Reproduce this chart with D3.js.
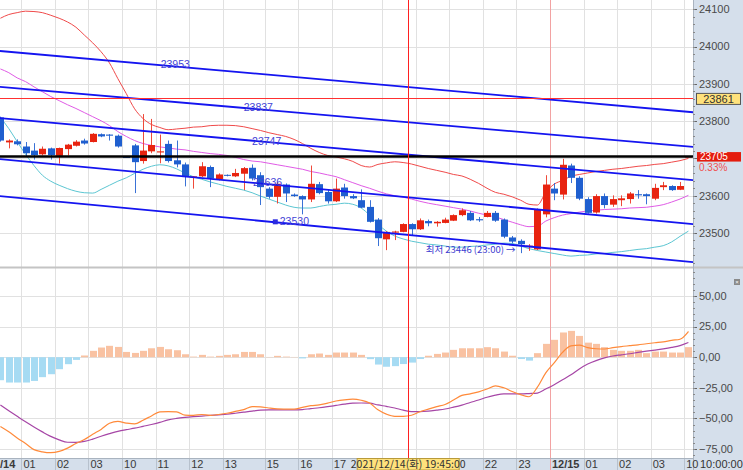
<!DOCTYPE html>
<html>
<head>
<meta charset="utf-8">
<script src="https://cdn.jsdelivr.net/npm/d3@7"></script>
<style>
  body { margin: 0; background: #fff; }
  svg { display: block; font-family: "Liberation Sans Narrow", "Liberation Sans", Arial, sans-serif; }
</style>
</head>
<body>
<svg id="chart" width="743" height="470"></svg>
<script>
// 15 minute bars, 2021/12/14 01:00 .. 12/15 10:00
const opens = [23810,23743,23746,23732,23721,23711,23727,23707,23725,23734,23748,23744,23765,23764,23761,23704,
  23735,23693,23719,23716,23739,23695,23684,23649,23652,23677,23644,23656,23652,23659,23675,23655,23619,23597,
  23630,23603,23599,23590,23631,23610,23585,23622,23599,23588,23570,23536,23483,23501,23503,23524,23510,23532,
  23526,23527,23533,23548,23554,23537,23543,23554,23536,23488,23479,23462,23456,23550,23619,23603,23681,23648,
  23591,23555,23599,23576,23588,23591,23604,23604,23592,23623,23626,23616,23705];
const highs = [23812,23751,23751,23744,23741,23732,23729,23729,23739,23749,23753,23768,23767,23765,23764,23705,
  23739,23819,23806,23764,23748,23748,23689,23652,23690,23681,23660,23657,23672,23677,23684,23663,23623,23637,
  23633,23606,23601,23681,23637,23615,23646,23632,23604,23617,23588,23540,23505,23506,23526,23526,23539,23536,
  23532,23541,23550,23566,23559,23543,23559,23559,23539,23492,23483,23470,23566,23655,23634,23699,23686,23652,
  23596,23604,23606,23601,23601,23610,23615,23606,23632,23637,23628,23637,23705];
const lows = [23745,23727,23735,23707,23697,23708,23697,23686,23708,23732,23737,23743,23757,23748,23729,23702,
  23607,23686,23714,23687,23689,23676,23625,23619,23650,23623,23641,23652,23650,23615,23641,23575,23592,23579,
  23583,23597,23550,23583,23604,23579,23583,23592,23591,23567,23528,23465,23454,23481,23502,23494,23508,23518,
  23517,23526,23532,23545,23532,23530,23542,23530,23486,23472,23446,23452,23454,23542,23588,23590,23634,23588,
  23552,23552,23566,23570,23572,23579,23592,23577,23588,23615,23613,23615,23705];
const closes = [23748,23748,23738,23714,23709,23726,23709,23728,23737,23745,23740,23766,23759,23761,23732,23703,
  23690,23721,23736,23719,23693,23684,23650,23652,23679,23646,23657,23654,23661,23674,23646,23623,23597,23632,
  23606,23599,23590,23632,23607,23585,23619,23599,23593,23568,23530,23486,23503,23504,23524,23510,23534,23526,
  23530,23536,23548,23561,23534,23534,23554,23533,23490,23477,23470,23466,23563,23630,23606,23683,23648,23592,
  23554,23599,23575,23591,23593,23606,23601,23599,23621,23628,23615,23626,23705];

// price envelope (upper / middle / lower)
const bandUpper = [24076,24086,24091,24095,24094,24091,24084,24076,24066,24052,24031,24010,23986,23956,23914,23874,
  23833,23807,23791,23783,23777,23779,23781,23784,23785,23788,23789,23789,23788,23785,23780,23775,23769,23764,
  23759,23751,23740,23727,23716,23708,23704,23699,23692,23681,23677,23684,23688,23691,23689,23685,23679,23673,
  23668,23663,23657,23653,23644,23633,23620,23609,23604,23597,23588,23577,23575,23609,23631,23641,23652,23657,
  23661,23665,23668,23671,23673,23676,23679,23681,23684,23686,23690,23694,23700];
const bandMiddle = [23940,23930,23916,23906,23892,23879,23866,23855,23844,23834,23823,23812,23801,23788,23772,23759,
  23748,23740,23735,23731,23728,23725,23723,23719,23716,23713,23711,23708,23703,23697,23693,23691,23687,23683,
  23679,23675,23671,23665,23661,23656,23651,23643,23635,23627,23620,23612,23605,23600,23596,23591,23585,23580,
  23576,23572,23568,23564,23559,23553,23548,23543,23536,23529,23522,23517,23518,23532,23541,23548,23552,23556,
  23559,23561,23563,23564,23565,23567,23568,23569,23572,23576,23583,23591,23601];
const bandLower = [23810,23780,23745,23711,23681,23655,23639,23628,23619,23612,23608,23607,23617,23628,23639,23648,
  23660,23671,23679,23683,23680,23672,23661,23651,23644,23637,23631,23625,23620,23615,23608,23599,23591,23583,
  23575,23569,23567,23567,23571,23575,23577,23580,23577,23567,23548,23524,23505,23492,23484,23478,23474,23470,
  23468,23465,23462,23462,23464,23465,23468,23470,23473,23472,23465,23458,23453,23449,23445,23441,23438,23440,
  23441,23444,23445,23448,23450,23453,23456,23458,23462,23466,23476,23491,23505];

// MACD panel
const macdLine = [-56.7,-61,-66,-70.5,-75.5,-77.3,-78,-77,-74.3,-70.5,-67.3,-63,-59,-54,-52.5,-53.8,-54.5,-51.5,
  -48,-44.6,-44.4,-44.6,-47.3,-47.5,-46.8,-47.5,-46.8,-45.8,-44.3,-42.8,-40.3,-40.6,-41.5,-42.2,-42.4,-42.5,-41,
  -39.6,-39,-37.5,-35.8,-34.8,-34.3,-35.2,-37.5,-43,-46.5,-48.3,-48.3,-47.4,-44.6,-42.4,-40.4,-38.6,-35,-31.2,
  -29.9,-28.3,-26,-23.4,-25,-28,-30.6,-32.3,-24.5,-12.8,-4.6,4,9.3,9.8,7.8,6.9,6.7,7.8,8.7,9.4,10.1,11,11.8,12.5,
  13.8,14.7,21];
const signalLine = [-39,-43.7,-48.3,-52.8,-57,-61,-64.7,-67.5,-69.5,-69.6,-68.8,-66.9,-64.6,-62.5,-60.6,-59.2,-58,
  -56.5,-55,-53.3,-51.2,-50,-49.2,-48.6,-48.1,-47.6,-47.1,-46.6,-45.8,-44.9,-44,-43.3,-43.1,-43.1,-43.1,-43.1,
  -42.8,-42,-41.3,-40.4,-39.4,-38.4,-37.6,-37.4,-37.6,-39,-40.2,-41.5,-43.2,-44.4,-44.4,-44,-43.2,-42.3,-40.8,
  -39.1,-37,-35,-32.7,-31,-30,-30,-30,-29.7,-29.3,-26,-22.5,-18.5,-14.4,-9.6,-5.6,-2.8,-0.6,1,1.9,2.8,3.9,4.9,5.8,
  6.8,8,9.5,12];
const histogram = [-18.8,-20.7,-20.7,-20.7,-19.4,-16.3,-13.9,-9.8,-5.7,-2.2,1.4,5.2,7.9,9.3,8.4,4.3,3.5,5.2,7.3,8.4,
  6.5,5.7,2.4,0.5,1.9,0.5,1.1,1.9,2.4,4.3,4.3,2.4,0.2,1.1,0.5,0.2,-1.0,2.4,3.0,1.9,3.8,3.8,3.8,1.9,-1.6,-6.0,-7.8,
  -7.3,-5.6,-4.4,-1.5,1.2,2.7,3.8,6.0,7.3,7.3,7.3,8.2,7.3,4.6,1.2,-1.5,-2.8,3.3,10.9,14.2,20.2,21.5,17.4,11.9,10.9,
  8.2,6.0,5.2,5.2,6.0,3.3,4.6,4.6,3.8,3.8,8.2];

// drawn trend channel: price at bar 0 and bar 82.5
const channelStart = [23988, 23892, 23808, 23698, 23599];
const channelEnd = [23824, 23731, 23642, 23524, 23422];
const channelLabels = ["23953", "23837", "23747", "23636", "23530"];
const channelLabelIdx = [19.1, 29.0, 30.0, 30.1, 33.3];

// time axis (first label is cut at the left edge in the source)
const hourLabels = ["/14", "01", "02", "03", "10", "11", "12", "13", "15", "16", "17", "22", "23", "12/15", "01", "02", "03", "10"];
const hourIdx = [-1.5, 2.5, 6.5, 10.5, 14.5, 18.5, 22.5, 26.5, 31.5, 35.5, 39.5, 57.5, 61.5, 65.5, 69.5, 73.5, 77.5, 81.5];
const hiddenHourIdx = [45.5, 49.5, 53.5];
const dayBreakIdx = 65.5;

const priceTicks = [23500, 23600, 23700, 23800, 23900, 24000, 24100];
const macdTicks = [-75, -50, -25, 0, 25, 50];

const currentPrice = 23705;
const changeText = "0.33%";
const crossIdx = 48.6;
const crossPrice = 23861;
const crossTimeText = "2021/12/14(화) 19:45:00";
const lastTimeText = "10:00:00";
const lowIdx = 62, lowPrice = 23446, lowText = "최저 23446 (23:00) →";

// 1. Dimensions
const W = 743, H = 470, plotR = 693;
const upTop = 0, upBot = 267, loTop = 268, loBot = 458;
const axisBg = "#d5dfeb";

const svg = d3.select("#chart");

// 2. Scales
const x = d3.scaleLinear().domain([0, 82]).range([0.4, 688.4]);
const y = d3.scaleLinear().domain([23500, 24100]).range([233, 9.3]);
const ym = d3.scaleLinear().domain([-75, 50]).range([449, 296]);
const crisp = v => Math.round(v) + 0.5;

const defs = svg.append("defs");
defs.append("clipPath").attr("id", "clipUp").append("rect")
    .attr("x", 0).attr("y", upTop).attr("width", plotR).attr("height", upBot - upTop);
defs.append("clipPath").attr("id", "clipLo").append("rect")
    .attr("x", 0).attr("y", loTop).attr("width", plotR).attr("height", loBot - loTop);

// 3. Backgrounds
svg.append("rect").attr("x", plotR).attr("y", 0).attr("width", W - plotR).attr("height", H).attr("fill", axisBg);
svg.append("rect").attr("x", 0).attr("y", loBot).attr("width", plotR).attr("height", H - loBot).attr("fill", axisBg);

// 4. Grid
const grid = svg.append("g").attr("stroke", "#e1e1e1").attr("stroke-width", 1);
priceTicks.forEach(t => grid.append("line")
    .attr("x1", 0).attr("x2", plotR).attr("y1", crisp(y(t))).attr("y2", crisp(y(t))));
macdTicks.forEach(t => grid.append("line")
    .attr("x1", 0).attr("x2", plotR).attr("y1", crisp(ym(t))).attr("y2", crisp(ym(t))));
hourIdx.concat(hiddenHourIdx).forEach(i => {
    if (i === dayBreakIdx || x(i) < 0) return;
    grid.append("line").attr("x1", crisp(x(i))).attr("x2", crisp(x(i))).attr("y1", 0).attr("y2", loBot);
    svg.append("line").attr("x1", crisp(x(i))).attr("x2", crisp(x(i))).attr("y1", loBot).attr("y2", H)
        .attr("stroke", "#b7c1cd");
});
svg.append("line").attr("x1", crisp(x(dayBreakIdx))).attr("x2", crisp(x(dayBreakIdx)))
    .attr("y1", 0).attr("y2", H).attr("stroke", "#f2a2a2");

// panel separators
svg.append("line").attr("x1", 0).attr("x2", W).attr("y1", 267.5).attr("y2", 267.5)
    .attr("stroke", "#c4c4c4").attr("stroke-width", 2);
svg.append("line").attr("x1", 0).attr("x2", plotR).attr("y1", loBot + 0.5).attr("y2", loBot + 0.5).attr("stroke", "#a9b3bf");
svg.append("line").attr("x1", plotR + 0.5).attr("x2", plotR + 0.5).attr("y1", 0).attr("y2", H).attr("stroke", "#a9b3bf");

// 5. Upper panel
const up = svg.append("g").attr("clip-path", "url(#clipUp)");
const idx = d3.range(bandUpper.length);
const bandLine = arr => d3.line().x(i => x(i)).y(i => y(arr[i])).curve(d3.curveMonotoneX)(idx);
up.append("path").attr("d", bandLine(bandUpper)).attr("fill", "none").attr("stroke", "#f04a4a").attr("stroke-width", 1);
up.append("path").attr("d", bandLine(bandMiddle)).attr("fill", "none").attr("stroke", "#e05be6").attr("stroke-width", 1);
up.append("path").attr("d", bandLine(bandLower)).attr("fill", "none").attr("stroke", "#5cc6d2").attr("stroke-width", 1);

// candles
const candles = up.append("g");
opens.forEach((o, i) => {
    const c = closes[i];
    const isUp = c >= o;
    const body = isUp ? "#e8230f" : "#1f5fcf";
    const wick = isUp ? "#ef4a3a" : "#3a72d6";
    const cx = x(i);
    candles.append("line").attr("x1", crisp(cx)).attr("x2", crisp(cx))
        .attr("y1", y(highs[i])).attr("y2", y(lows[i])).attr("stroke", wick);
    const top = y(Math.max(o, c)), bot = y(Math.min(o, c));
    candles.append("rect").attr("x", Math.round(cx) - 3).attr("y", top)
        .attr("width", 7).attr("height", Math.max(1, bot - top)).attr("fill", body);
});

// trend channel
channelStart.forEach((s, k) => {
    const p = d3.scaleLinear().domain([0, 82.5]).range([s, channelEnd[k]]);
    up.append("line").attr("x1", x(-1)).attr("y1", y(p(-1))).attr("x2", x(84)).attr("y2", y(p(84)))
        .attr("stroke", "#1414f0").attr("stroke-width", 1.8);
});
channelLabels.forEach((t, k) => {
    const lx = x(channelLabelIdx[k]);
    up.append("text").attr("x", lx).attr("y", y(+t)).attr("dy", "0.35em")
        .attr("font-size", 10.5).attr("fill", "#4343d6").text(t);
});
up.append("rect").attr("x", x(channelLabelIdx[4]) - 7).attr("y", y(+channelLabels[4]) - 2.5)
    .attr("width", 5).attr("height", 5).attr("fill", "#2b2be0");

// current price line
up.append("line").attr("x1", 0).attr("x2", plotR).attr("y1", y(currentPrice)).attr("y2", y(currentPrice))
    .attr("stroke", "#000").attr("stroke-width", 2.5);

// lowest label
up.append("text").attr("x", x(lowIdx) - 5).attr("y", y(lowPrice)).attr("text-anchor", "end")
    .attr("font-family", "'Noto Sans CJK KR', 'DejaVu Sans', sans-serif")
    .attr("font-size", 9.5).attr("fill", "#3c3cd0").text(lowText);

// 6. Lower panel (MACD)
const lo = svg.append("g").attr("clip-path", "url(#clipLo)");
lo.selectAll(".hist").data(histogram).join("rect")
    .attr("x", (d, i) => Math.round(x(i)) - 3)
    .attr("y", d => ym(Math.max(0, d)))
    .attr("width", 7)
    .attr("height", d => Math.abs(ym(d) - ym(0)))
    .attr("fill", d => d >= 0 ? "#f9c2a2" : "#a6dbf3");
const macdPath = arr => d3.line().x((d, i) => x(i)).y(d => ym(d)).curve(d3.curveMonotoneX)(arr);
lo.append("path").attr("d", macdPath(signalLine)).attr("fill", "none").attr("stroke", "#a646a6").attr("stroke-width", 1.2);
lo.append("path").attr("d", macdPath(macdLine)).attr("fill", "none").attr("stroke", "#ff8a3a").attr("stroke-width", 1.2);

// 7. Crosshair
svg.append("line").attr("x1", crisp(x(crossIdx))).attr("x2", crisp(x(crossIdx))).attr("y1", 0).attr("y2", loBot)
    .attr("stroke", "#ff2020");
svg.append("line").attr("x1", 0).attr("x2", plotR).attr("y1", crisp(y(crossPrice))).attr("y2", crisp(y(crossPrice)))
    .attr("stroke", "#ff3030");

// 8. Right axis (the 23700 label sits under the current price box, so it is not printed)
const ax = svg.append("g").attr("font-size", 11).attr("fill", "#4a4a4a");
priceTicks.forEach(t => {
    ax.append("line").attr("x1", plotR).attr("x2", plotR + 4).attr("y1", crisp(y(t))).attr("y2", crisp(y(t))).attr("stroke", "#666");
    if (Math.abs(t - currentPrice) > 20) {
        ax.append("text").attr("x", plotR + 6).attr("y", y(t)).attr("dy", "0.35em").text(t);
    }
});
d3.range(23420, 24120, 20).forEach(t => {
    ax.append("line").attr("x1", plotR).attr("x2", plotR + 2).attr("y1", crisp(y(t))).attr("y2", crisp(y(t))).attr("stroke", "#888");
});
const fmt = d => d3.format(".2f")(d).replace(".", ",");
macdTicks.forEach(t => {
    ax.append("line").attr("x1", plotR).attr("x2", plotR + 4).attr("y1", crisp(ym(t))).attr("y2", crisp(ym(t))).attr("stroke", "#666");
    ax.append("text").attr("x", plotR + 6).attr("y", ym(t)).attr("dy", "0.35em").text(fmt(t));
});
d3.range(-80, 71, 5).forEach(t => {
    ax.append("line").attr("x1", plotR).attr("x2", plotR + 2).attr("y1", crisp(ym(t))).attr("y2", crisp(ym(t))).attr("stroke", "#888");
});

// price boxes
const yb = y(crossPrice);
svg.append("rect").attr("x", 696.5).attr("y", yb - 5).attr("width", 44).attr("height", 11)
    .attr("fill", "#ffe27c").attr("stroke", "#555");
svg.append("text").attr("x", 718.5).attr("y", yb).attr("dy", "0.38em").attr("text-anchor", "middle")
    .attr("font-size", 11).attr("fill", "#333").text(crossPrice);
const yc = y(currentPrice);
svg.append("rect").attr("x", 697).attr("y", yc - 4.5).attr("width", 44).attr("height", 9.5).attr("fill", "#e41c0e");
svg.append("text").attr("x", 700).attr("y", yc + 3.6)
    .attr("font-size", 10).attr("fill", "#fff").text(currentPrice);
svg.append("text").attr("x", 699).attr("y", yc + 14.5)
    .attr("font-size", 10).attr("fill", "#f05050").text(changeText);

// close button of the lower pane
svg.append("rect").attr("x", 734).attr("y", 279).attr("width", 6).attr("height", 6).attr("fill", "#8a8a8a");
svg.append("text").attr("x", 737).attr("y", 284).attr("text-anchor", "middle").attr("font-size", 6)
    .attr("fill", "#fff").text("×");

// 9. Time axis
hourLabels.forEach((t, k) => {
    const bold = t.includes("/");
    const tx = Math.max(0, x(hourIdx[k]) + 2);
    svg.append("text").attr("x", tx).attr("y", 468)
        .attr("font-size", 11).attr("font-weight", bold ? "bold" : null)
        .attr("fill", "#3a3a3a").text(t);
});
const cx0 = x(crossIdx);
svg.append("rect").attr("x", cx0 - 51).attr("y", loBot + 0.5).attr("width", 102).attr("height", 11.5)
    .attr("fill", "#ffe27c").attr("stroke", "#b89a3a");
svg.append("text").attr("x", cx0).attr("y", 468).attr("text-anchor", "middle")
    .attr("font-size", 10.5).attr("fill", "#333")
    .attr("font-family", "'Liberation Sans Narrow', 'Noto Sans CJK KR', sans-serif").text(crossTimeText);
svg.append("text").attr("x", 700).attr("y", 468).attr("font-size", 11).attr("fill", "#333").text(lastTimeText);
</script>
</body>
</html>
